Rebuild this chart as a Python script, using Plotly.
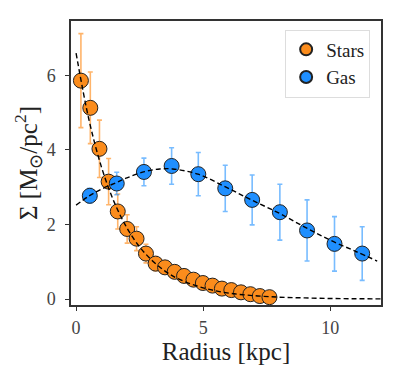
import plotly.graph_objects as go

# Stars data
stars_r = [0.19, 0.56, 0.92, 1.28, 1.64, 2.01, 2.38, 2.75, 3.13, 3.50, 3.88, 4.25,
           4.62, 4.99, 5.37, 5.74, 6.11, 6.49, 6.86, 7.23, 7.61]
stars_sigma = [5.86, 5.13, 4.03, 3.15, 2.35, 1.88, 1.62, 1.22, 0.95, 0.85, 0.73, 0.62,
               0.52, 0.43, 0.36, 0.28, 0.24, 0.18, 0.13, 0.08, 0.05]
stars_err = [1.26, 0.96, 0.77, 0.62, 0.47, 0.38, 0.32, 0.25, 0.19, 0.17, 0.15, 0.12,
             0.10, 0.09, 0.07, 0.06, 0.05, 0.04, 0.03, 0.02, 0.01]

# Gas data
gas_r = [0.54, 1.60, 2.67, 3.76, 4.81, 5.87, 6.93, 8.02, 9.09, 10.17, 11.26]
gas_sigma = [2.77, 3.10, 3.41, 3.57, 3.35, 2.97, 2.66, 2.33, 1.84, 1.48, 1.22]
gas_err = [0.20, 0.30, 0.37, 0.49, 0.58, 0.62, 0.67, 0.75, 0.82, 0.73, 0.72]

# Fit curves
stars_fit_r = [0, 0.5, 1, 1.5, 2, 2.5, 3, 3.5, 4, 5, 6, 7, 8, 9, 10, 11, 12]
stars_fit_sigma = [6.6, 4.83, 3.54, 2.60, 1.91, 1.40, 1.03, 0.75, 0.55, 0.30, 0.16,
                   0.09, 0.05, 0.03, 0.015, 0.008, 0.004]
gas_fit_r = [0, 0.5, 1, 1.6, 2, 2.7, 3.3, 3.8, 4.8, 5.9, 6.9, 8.0, 9.0, 10.0, 11.0, 11.85]
gas_fit_sigma = [2.52, 2.76, 2.95, 3.13, 3.25, 3.42, 3.49, 3.49, 3.35, 3.00, 2.66,
                 2.30, 1.93, 1.58, 1.28, 1.02]

orange = "#fb8c1c"
blue = "#1f8fff"
serif = "'Liberation Serif', 'Times New Roman', Times, serif"

fig = go.Figure()
fig.add_trace(go.Scatter(
    x=stars_r, y=stars_sigma, mode="markers", name="Stars",
    marker=dict(color=orange, size=15, line=dict(color="#222", width=1)),
    error_y=dict(type="data", array=stars_err, color="rgba(255,140,26,0.65)",
                 thickness=1.6, width=2.5),
))
fig.add_trace(go.Scatter(
    x=gas_r, y=gas_sigma, mode="markers", name="Gas",
    marker=dict(color=blue, size=15, line=dict(color="#222", width=1)),
    error_y=dict(type="data", array=gas_err, color="rgba(30,144,255,0.6)",
                 thickness=1.6, width=2.5),
))
fig.add_trace(go.Scatter(
    x=stars_fit_r, y=stars_fit_sigma, mode="lines", showlegend=False,
    line=dict(color="black", width=1.4, dash="5px,3px", shape="spline"),
))
fig.add_trace(go.Scatter(
    x=gas_fit_r, y=gas_fit_sigma, mode="lines", showlegend=False,
    line=dict(color="black", width=1.4, dash="5px,3px", shape="spline"),
))

axis_common = dict(
    showline=True, linecolor="#333", linewidth=1.5, mirror=True,
    ticks="outside", ticklen=4, tickwidth=1.2, tickcolor="#333",
    showgrid=False, zeroline=False,
    tickfont=dict(family=serif, size=18, color="#444"),
)

fig.update_layout(
    width=390, height=370,
    margin=dict(l=63, r=17, t=11, b=73),
    paper_bgcolor="white", plot_bgcolor="white",
    font=dict(family=serif),
    xaxis=dict(range=[-0.2, 12.0], tickvals=[0, 5, 10], ticklabelstandoff=2,
               title=dict(text="Radius [kpc]", font=dict(family=serif, size=25, color="#222"), standoff=0),
               **axis_common),
    yaxis=dict(range=[-0.16, 7.46], tickvals=[0, 2, 4, 6], ticklabelstandoff=6,
               title=dict(text="Σ [M<sub>⊙</sub>/pc<sup>2</sup>]", font=dict(family=serif, size=25, color="#222"), standoff=2),
               **axis_common),
    legend=dict(x=0.965, y=0.97, xanchor="right", yanchor="top",
                bgcolor="rgba(255,255,255,0.9)", bordercolor="#ddd", borderwidth=1,
                font=dict(family=serif, size=19, color="#222"), itemsizing="constant",
                tracegroupgap=0),
    showlegend=True,
)

fig.write_html("out.html")
